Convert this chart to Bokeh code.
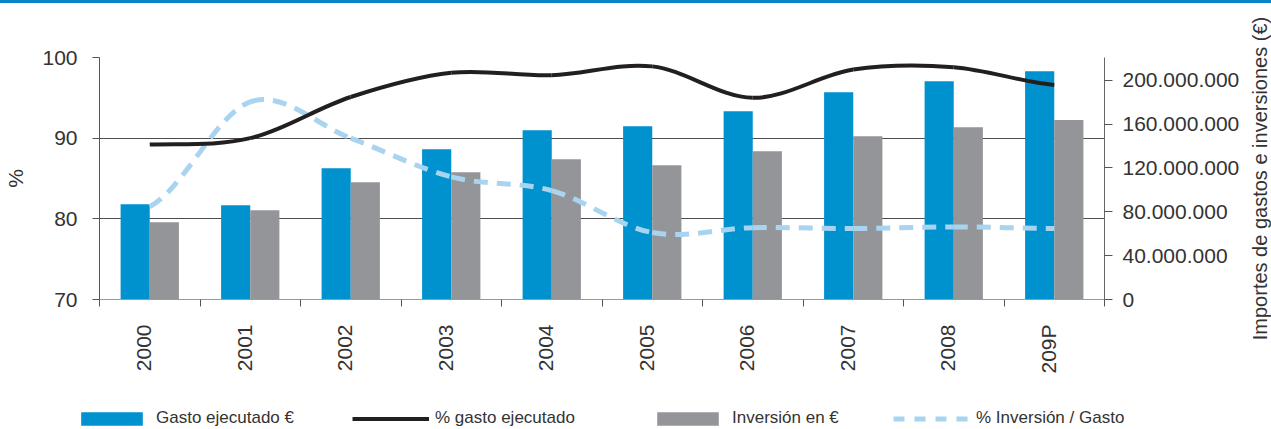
import math
import numpy as np
from bokeh.plotting import figure
from bokeh.models import (Range1d, LinearAxis, FixedTicker, Legend, LegendItem,
                          ColumnDataSource, Title, Div)
from bokeh.layouts import column, row
from bokeh.embed import file_html
from bokeh.resources import INLINE

# ---------------- data ----------------
years = ["2000", "2001", "2002", "2003", "2004", "2005", "2006", "2007", "2008", "209P"]
gasto_ejecutado = [86.9e6, 86.0e6, 119.7e6, 137.1e6, 154.4e6, 158.0e6, 171.7e6, 189.0e6, 199.1e6, 208.2e6]
inversion = [70.5e6, 81.5e6, 107.0e6, 116.1e6, 128.0e6, 122.5e6, 135.2e6, 148.9e6, 157.1e6, 163.6e6]
pct_gasto = [89.2, 90.0, 95.1, 98.1, 97.8, 98.9, 95.0, 98.5, 98.8, 96.6]
pct_inversion = [81.5, 94.5, 90.0, 85.2, 83.5, 78.3, 78.9, 78.8, 79.0, 78.8]
left_ticks = [70, 80, 90, 100]
right_ticks = [0, 40e6, 80e6, 120e6, 160e6, 200e6]
right_tick_labels = ["0", "40.000.000", "80.000.000", "120.000.000", "160.000.000", "200.000.000"]
legend_labels = ["Gasto ejecutado €", "% gasto ejecutado", "Inversión en €", "% Inversión / Gasto"]
right_title = "Importes de gastos e inversiones (€)"

FONT = "Liberation Sans"
TXT = "#333333"
BLUE = "#0091cf"
GREY = "#939598"
BLACK = "#231f20"
LIGHT = "#a8d4ef"
BAND = "#0a84c8"

n = len(years)
centers = np.arange(n) + 0.5
LABEL_SHIFT = 0.06      # year labels sit slightly left of the category centre

BORDER_TOP, BORDER_BOTTOM = 54, 101
MAIN_H = 397
MAIN_W, TITLE_W = 1246, 25
LEG_H = 28


def bare(fig):
    fig.outline_line_color = None
    fig.xaxis.visible = False
    fig.yaxis.visible = False
    fig.xgrid.visible = False
    fig.ygrid.visible = False


# ---------------- top band ----------------
band = Div(text="", width=MAIN_W + TITLE_W, height=3, margin=0,
           styles={"background-color": BAND})

# ---------------- main chart ----------------
p = figure(width=MAIN_W, height=MAIN_H, x_range=Range1d(0, n), y_range=Range1d(70, 100),
           output_backend="svg", toolbar_location=None,
           min_border_left=99, min_border_right=142,
           min_border_top=BORDER_TOP, min_border_bottom=BORDER_BOTTOM)
p.extra_y_ranges = {"eur": Range1d(0, 220.7e6)}
p.outline_line_color = None
p.background_fill_color = "white"
p.border_fill_color = "white"

bsrc = ColumnDataSource(dict(xb=centers - 0.145, xg=centers + 0.145,
                             g=gasto_ejecutado, inv=inversion))
p.vbar(x="xb", top="g", bottom=0, width=0.29, source=bsrc, y_range_name="eur",
       fill_color=BLUE, line_color=None)
p.vbar(x="xg", top="inv", bottom=0, width=0.29, source=bsrc, y_range_name="eur",
       fill_color=GREY, line_color=None)


def bezier_source(xs, ys):
    xs = list(xs); ys = list(ys)
    x0, y0, x1, y1, cx0, cy0, cx1, cy1 = [], [], [], [], [], [], [], []
    m = len(xs)
    for i in range(m - 1):
        yp = ys[i - 1] if i > 0 else ys[i]
        yn = ys[i + 2] if i + 2 < m else ys[i + 1]
        x0.append(xs[i]); y0.append(ys[i]); x1.append(xs[i + 1]); y1.append(ys[i + 1])
        cx0.append(xs[i] + (xs[i + 1] - xs[i]) / 3.0)
        cx1.append(xs[i + 1] - (xs[i + 1] - xs[i]) / 3.0)
        cy0.append(ys[i] + (ys[i + 1] - yp) / 6.0)
        cy1.append(ys[i + 1] - (yn - ys[i]) / 6.0)
    return ColumnDataSource(dict(x0=x0, y0=y0, x1=x1, y1=y1, cx0=cx0, cy0=cy0, cx1=cx1, cy1=cy1))


p.bezier(x0="x0", y0="y0", x1="x1", y1="y1", cx0="cx0", cy0="cy0", cx1="cx1", cy1="cy1",
         source=bezier_source(centers, pct_inversion), line_color=LIGHT, line_width=5,
         line_dash="14 9")
p.bezier(x0="x0", y0="y0", x1="x1", y1="y1", cx0="cx0", cy0="cy0", cx1="cx1", cy1="cy1",
         source=bezier_source(centers, pct_gasto), line_color=BLACK, line_width=4)

xa = p.xaxis[0]
label_pos = [float(c - LABEL_SHIFT) for c in centers]
xa.ticker = FixedTicker(ticks=label_pos, minor_ticks=list(range(n + 1)))
xa.major_label_overrides = {c: y for c, y in zip(label_pos, years)}
xa.major_tick_out = 0
xa.major_tick_in = 0
xa.minor_tick_out = 7
xa.minor_tick_in = 0
xa.minor_tick_line_color = "#555555"
xa.axis_line_color = "#9a9a9a"
xa.major_label_orientation = math.pi / 2
xa.major_label_standoff = 18
xa.major_label_text_font = FONT
xa.major_label_text_font_size = "21px"
xa.major_label_text_color = TXT

ya = p.yaxis[0]
ya.ticker = FixedTicker(ticks=left_ticks)
ya.minor_tick_line_color = None
ya.major_tick_out = 7
ya.major_tick_in = 0
ya.major_tick_line_color = "#555555"
ya.axis_line_color = "#555555"
ya.major_label_standoff = 15
ya.major_label_text_font = FONT
ya.major_label_text_font_size = "21px"
ya.major_label_text_color = TXT
ya.axis_label = "%"
ya.axis_label_text_font = FONT
ya.axis_label_text_font_size = "21px"
ya.axis_label_text_font_style = "normal"
ya.axis_label_text_color = TXT
ya.axis_label_standoff = 12

ra = LinearAxis(y_range_name="eur")
ra.ticker = FixedTicker(ticks=right_ticks)
ra.major_label_overrides = {t: l for t, l in zip(right_ticks, right_tick_labels)}
ra.minor_tick_line_color = None
ra.major_tick_out = 8
ra.major_tick_in = 0
ra.major_tick_line_color = "#555555"
ra.axis_line_color = "#666666"
ra.major_label_standoff = 10
ra.major_label_text_font = FONT
ra.major_label_text_font_size = "21px"
ra.major_label_text_color = TXT
p.add_layout(ra, "right")

p.xgrid.grid_line_color = None
p.ygrid.ticker = FixedTicker(ticks=left_ticks[1:])
p.ygrid.grid_line_color = "#4d4d4d"
p.ygrid.grid_line_width = 1

# ---------------- right-hand axis title (reads bottom to top) ----------------
p_rt = figure(width=TITLE_W, height=MAIN_H, output_backend="svg", toolbar_location=None,
              min_border_left=0, min_border_right=0,
              min_border_top=BORDER_TOP, min_border_bottom=BORDER_BOTTOM)
bare(p_rt)
p_rt.add_layout(Title(text=right_title, align="center", text_font=FONT,
                      text_font_size="20px", text_font_style="normal", text_color=TXT,
                      standoff=0, offset=0), "left")

# ---------------- legend strip ----------------
p_leg = figure(width=MAIN_W + TITLE_W, height=LEG_H, output_backend="svg",
               toolbar_location=None, min_border=0)
bare(p_leg)
lg_gasto = p_leg.vbar(x="xb", top="g", bottom=0, width=0.29, source=bsrc,
                      fill_color=BLUE, line_color=None, visible=False)
lg_inv = p_leg.vbar(x="xg", top="inv", bottom=0, width=0.29, source=bsrc,
                    fill_color=GREY, line_color=None, visible=False)
lg_black = p_leg.line(x=list(centers), y=pct_gasto, line_color=BLACK, line_width=4, visible=False)
lg_dash = p_leg.line(x=list(centers), y=pct_inversion, line_color=LIGHT, line_width=5,
                     line_dash="11 10", visible=False)

leg_specs = [(lg_gasto, 73), (lg_black, 352), (lg_inv, 649), (lg_dash, 893)]
for label, (rend, xoff) in zip(legend_labels, leg_specs):
    lg = Legend(items=[LegendItem(label=label, renderers=[rend])], location=(xoff, 0),
                orientation="horizontal", padding=0, margin=0, spacing=0,
                glyph_width=77, glyph_height=17, label_height=17, label_standoff=6,
                label_text_font=FONT, label_text_font_size="17px", label_text_color=TXT,
                border_line_color=None, background_fill_alpha=0)
    p_leg.add_layout(lg, "center")

layout = column(band, row(p, p_rt, spacing=0), p_leg, spacing=0)
open("out.html", "w").write(file_html(layout, INLINE))
